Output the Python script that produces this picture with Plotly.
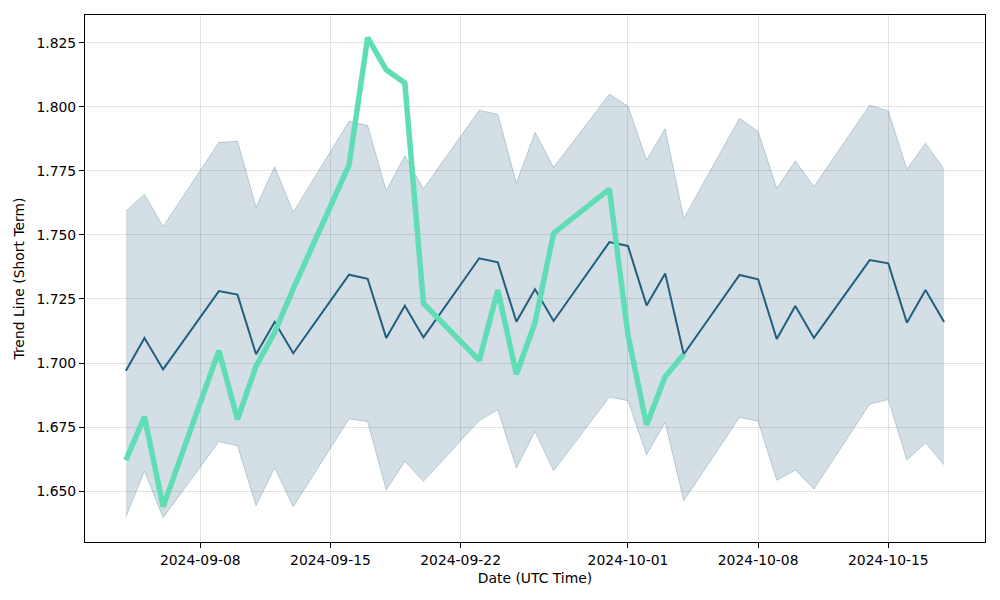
import plotly.graph_objects as go

dates = [
    "2024-09-04", "2024-09-05", "2024-09-06", "2024-09-09", "2024-09-10", "2024-09-11",
    "2024-09-12", "2024-09-13", "2024-09-16", "2024-09-17", "2024-09-18", "2024-09-19",
    "2024-09-20", "2024-09-23", "2024-09-24", "2024-09-25", "2024-09-26", "2024-09-27",
    "2024-09-30", "2024-10-01", "2024-10-02", "2024-10-03", "2024-10-04", "2024-10-07",
    "2024-10-08", "2024-10-09", "2024-10-10", "2024-10-11", "2024-10-14", "2024-10-15",
    "2024-10-16", "2024-10-17", "2024-10-18",
]

trend = [
    1.6970, 1.7098, 1.6975, 1.7281, 1.7267, 1.7034, 1.7160, 1.7038, 1.7345, 1.7329,
    1.7098, 1.7224, 1.7100, 1.7409, 1.7393, 1.7161, 1.7288, 1.7164, 1.7472, 1.7457,
    1.7225, 1.7350, 1.7034, 1.7344, 1.7327, 1.7094, 1.7223, 1.7098, 1.7402, 1.7389,
    1.7157, 1.7285, 1.7160,
]

upper = [
    1.7594, 1.7659, 1.7533, 1.7861, 1.7866, 1.7608, 1.7767, 1.7589, 1.7944, 1.7927,
    1.7673, 1.7809, 1.7680, 1.7987, 1.7971, 1.7702, 1.7901, 1.7764, 1.8050, 1.8003,
    1.7793, 1.7915, 1.7565, 1.7956, 1.7904, 1.7682, 1.7789, 1.7689, 1.8007, 1.7984,
    1.7757, 1.7858, 1.7757,
]

lower = [
    1.6400, 1.6578, 1.6396, 1.6693, 1.6677, 1.6443, 1.6591, 1.6439, 1.6782, 1.6771,
    1.6504, 1.6616, 1.6538, 1.6775, 1.6818, 1.6590, 1.6733, 1.6579, 1.6867, 1.6853,
    1.6642, 1.6768, 1.6462, 1.6788, 1.6773, 1.6542, 1.6582, 1.6508, 1.6840, 1.6857,
    1.6621, 1.6688, 1.6602,
]

price = [
    1.6621, 1.6790, 1.6439, 1.7048, 1.6780, 1.6988, 1.7120, 1.7290, 1.7773, 1.8271,
    1.8145, 1.8093, 1.7233, 1.7010, 1.7285, 1.6956, 1.7157, 1.7507, 1.7679, 1.7109,
    1.6758, 1.6947, 1.7034,
]
price_dates = dates[:len(price)]

x_tick_vals = ["2024-09-08", "2024-09-15", "2024-09-22", "2024-10-01", "2024-10-08", "2024-10-15"]
y_tick_vals = [1.650, 1.675, 1.700, 1.725, 1.750, 1.775, 1.800, 1.825]

dark = "#215f7f"
band_fill = "rgba(33,95,127,0.20)"
band_edge = "rgba(33,95,127,0.25)"
green = "#60ddb5"

fig = go.Figure()
fig.add_trace(go.Scatter(x=dates, y=lower, mode="lines",
                         line=dict(color=band_edge, width=1), showlegend=False, hoverinfo="skip"))
fig.add_trace(go.Scatter(x=dates, y=upper, mode="lines", fill="tonexty", fillcolor=band_fill,
                         line=dict(color=band_edge, width=1), showlegend=False, hoverinfo="skip"))
fig.add_trace(go.Scatter(x=dates, y=trend, mode="lines",
                         line=dict(color=dark, width=2), showlegend=False))
fig.add_trace(go.Scatter(x=price_dates, y=price, mode="lines",
                         line=dict(color=green, width=5.5), showlegend=False))

font = "DejaVu Sans"
fs = 13.9
fig.update_layout(
    width=1000, height=600,
    margin=dict(l=85, r=15, t=15, b=58, autoexpand=False),
    paper_bgcolor="white", plot_bgcolor="white",
    font=dict(family=font, size=fs, color="black"),
    showlegend=False,
)
fig.update_xaxes(
    type="date",
    range=["2024-09-01 19:12", "2024-10-20 04:48"],
    tickvals=x_tick_vals, tickformat="%Y-%m-%d",
    showline=True, linecolor="black", linewidth=1, mirror=True,
    ticks="outside", ticklen=5, tickcolor="black", tickwidth=1,
    showgrid=True, gridcolor="rgba(0,0,0,0.11)", gridwidth=1,
    zeroline=False,
    title=dict(text="Date (UTC Time)", standoff=6, font=dict(size=fs)),
    tickfont=dict(size=fs),
)
fig.update_yaxes(
    range=[1.6301, 1.8359],
    tickvals=y_tick_vals, tickformat=".3f",
    showline=True, linecolor="black", linewidth=1, mirror=True,
    ticks="outside", ticklen=5, tickcolor="black", tickwidth=1,
    showgrid=True, gridcolor="rgba(0,0,0,0.11)", gridwidth=1,
    zeroline=False,
    title=dict(text="Trend Line (Short Term)", standoff=8, font=dict(size=fs)),
    tickfont=dict(size=fs),
)

fig.write_html("out.html")
